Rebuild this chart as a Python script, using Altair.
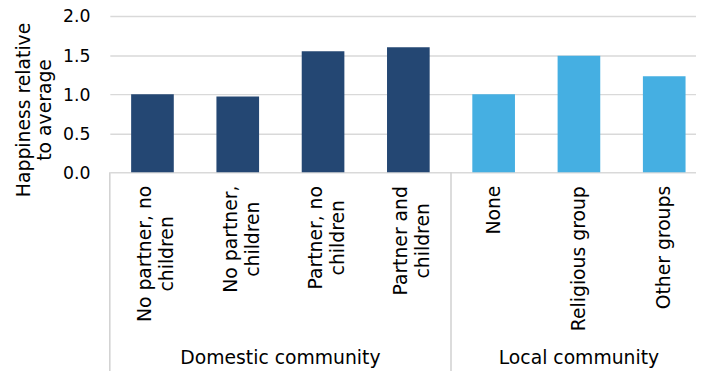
import json
import altair as alt
import pandas as pd

# ---- data ----
categories = [
    "No partner, no\nchildren",
    "No partner,\nchildren",
    "Partner, no\nchildren",
    "Partner and\nchildren",
    "None",
    "Religious group",
    "Other groups",
]
groups = [
    "Domestic community", "Domestic community", "Domestic community", "Domestic community",
    "Local community", "Local community", "Local community",
]
values = [1.00, 0.97, 1.55, 1.60, 1.00, 1.49, 1.23]
group_names = ["Domestic community", "Local community"]
group_colors = ["#244773", "#45AFE2"]
y_ticks = [0, 0.5, 1.0, 1.5, 2.0]

FONT = "DejaVu Sans"
LABEL_SIZE = 19
W, H = 593, 158
X_RANGE = [0, 604]

# approximate DejaVu Sans advance widths (em) to centre the lines of each label
_EM = {' ': 0.318, ',': 0.318, 'N': 0.748, 'P': 0.603, 'R': 0.695, 'O': 0.787,
       'a': 0.613, 'c': 0.550, 'd': 0.635, 'e': 0.615, 'g': 0.635, 'h': 0.634,
       'i': 0.278, 'l': 0.278, 'n': 0.634, 'o': 0.612, 'p': 0.635, 'r': 0.411,
       's': 0.521, 't': 0.392, 'u': 0.634}


def text_w(s):
    return sum(_EM.get(ch, 0.6) for ch in s) * LABEL_SIZE


pad_conditions = []
for c in categories:
    w = max(text_w(line) for line in c.split("\n"))
    pad_conditions.append({"test": f"datum.value == {json.dumps(c)}", "value": round(13 + w / 2, 1)})

df = pd.DataFrame({"category": categories, "value": values, "group": groups})

# group boundaries derived from the category/group lists
counts = [groups.count(g) for g in group_names]
starts, ends = [], []
acc = 0
for c in counts:
    starts.append(acc)
    acc += c
    ends.append(acc)
gdf = pd.DataFrame({
    "group": group_names,
    "mid": [(s + e) / 2 for s, e in zip(starts, ends)],
})
bdf = pd.DataFrame({"pos": starts + [ends[-1]]})

bars = alt.Chart(df).mark_bar().encode(
    x=alt.X(
        "category:N",
        sort=categories,
        scale=alt.Scale(range=X_RANGE, paddingInner=0.5, paddingOuter=0.25),
        axis=alt.Axis(
            title=None,
            labelAngle=270,
            labelAlign="center",
            labelBaseline="middle",
            labelExpr="split(datum.label, '\\n')",
            labelFont=FONT,
            labelFontSize=LABEL_SIZE,
            labelColor="#000000",
            labelLineHeight=22,
            labelPadding={"condition": pad_conditions, "value": 13},
            labelOffset={"condition": {"test": "indexof(datum.value, '\\n') >= 0", "value": -7}, "value": 0},
            labelOverlap=False,
            labelLimit=400,
            labelBound=False,
            ticks=False,
            domain=False,
        ),
    ),
    y=alt.Y(
        "value:Q",
        scale=alt.Scale(domain=[0, 2]),
        axis=alt.Axis(
            values=y_ticks,
            format=".1f",
            title=["Happiness relative", "to average"],
            domain=False,
            ticks=False,
            labelPadding=20,
            labelOffset=1,
            labelFont=FONT,
            labelFontSize=17.5,
            labelColor="#000000",
            gridColor="#D9D9D9",
            gridWidth=1.5,
            titleFont=FONT,
            titleFontSize=19,
            titleFontWeight="normal",
            titleColor="#000000",
            titleX=-87,
            titleY=94.5,
            titleAngle=270,
            titleAlign="center",
            titleBaseline="middle",
            titleLineHeight=21,
        ),
    ),
    color=alt.Color(
        "group:N",
        scale=alt.Scale(domain=group_names, range=group_colors),
        legend=None,
    ),
)

sep = alt.Chart(bdf).mark_rule(color="#D0D0D0", strokeWidth=1.5).encode(
    x=alt.X("pos:Q", scale=alt.Scale(domain=[0, len(categories)], range=X_RANGE), axis=None),
    y=alt.value(H),
    y2=alt.value(359),
)

glabels = alt.Chart(gdf).mark_text(
    font=FONT, fontSize=LABEL_SIZE, color="#000000", align="center", baseline="alphabetic"
).encode(
    x=alt.X("mid:Q", scale=alt.Scale(domain=[0, len(categories)], range=X_RANGE), axis=None),
    y=alt.value(352),
    text="group:N",
)

chart = (
    alt.layer(bars, sep, glabels)
    .resolve_scale(x="independent")
    .properties(
        width=W,
        height=H,
        autosize=alt.AutoSizeParams(type="none"),
        padding={"left": 103, "top": 6, "right": 0, "bottom": 204},
    )
    .configure_view(stroke=None)
)

chart.save("out.html", embed_options={"renderer": "svg", "actions": False})
